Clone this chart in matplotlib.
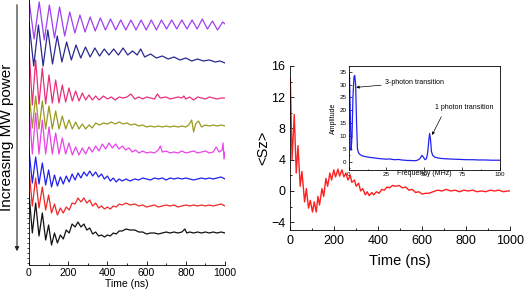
import numpy as np
import matplotlib
matplotlib.use("Agg")
import matplotlib.pyplot as plt
from matplotlib.ticker import MultipleLocator

plt.rcParams['font.family'] = ['Liberation Sans', 'DejaVu Sans']

# ---- left panel: stacked traces, (time ns, signal a.u.) relative to each trace's own baseline
purple = [(0, 25), (26, -14), (52, 23), (78, -15), (104, 20), (130, -13), (156, 18), (182, -11),
          (208, 13), (234, -8), (260, 10), (286, -7), (312, 8), (338, -6), (364, 7), (390, -5),
          (416, 6), (442, -5), (468, 5), (494, -5), (520, 5), (546, -5), (572, 5), (598, -5),
          (624, 5), (650, -5), (676, 5), (702, -4), (728, 5), (754, -4), (780, 5), (806, -4),
          (832, 5), (858, -4), (884, 6), (910, -4), (936, 4), (962, -5), (988, 3), (1000, 1)]
navy = [(0, 41), (24, -3), (48, 38), (72, -3), (96, 33), (120, -1), (144, 27), (168, 1),
        (192, 21), (216, 3), (240, 18), (264, 5), (288, 16), (312, 6), (336, 15), (360, 7),
        (384, 14), (408, 8), (432, 14), (456, 8), (480, 15), (504, 8), (528, 12), (552, 8),
        (570, 14), (590, 6), (620, 9), (650, 5), (680, 7), (710, 4), (740, 6), (770, 3),
        (800, 5), (830, 2), (860, 4), (890, 2), (920, 3), (950, 1), (975, 2), (1000, 0)]
pink = [(0, 50), (17, -7), (34, 38), (51, -6), (68, 30), (85, -6), (102, 23), (119, -5),
        (136, 18), (153, -5), (170, 13), (187, -4), (204, 10), (221, -3), (238, 7), (255, -3),
        (272, 5), (289, -2), (306, 3), (323, -2), (340, 2), (357, -2), (380, 2), (400, -1),
        (420, 1), (440, -2), (460, 1), (480, 0), (500, 1), (520, 4), (540, -1), (560, 1),
        (580, -1), (600, 1), (620, 0), (640, -1), (655, 4), (670, 0), (700, 1), (720, -1),
        (740, 0), (760, 1), (780, 0), (790, 2), (800, -1), (820, 1), (840, -2), (860, 1),
        (880, 0), (900, -1), (920, 1), (940, 0), (960, -1), (980, 0), (1000, 0)]
olive = [(0, 36), (17, -2), (34, 30), (51, -3), (68, 25), (85, -3), (102, 20), (119, -3),
         (136, 15), (153, -3), (170, 10), (187, -3), (204, 6), (221, -3), (238, 4), (255, -3),
         (272, 2), (289, -3), (306, 1), (323, -2), (340, 3), (360, 1), (380, 3), (400, 2),
         (420, 4), (440, 2), (460, 4), (480, 2), (500, 3), (520, 1), (540, 2), (560, 0),
         (580, 1), (600, -1), (620, 0), (640, -1), (660, 0), (680, -1), (700, 0), (720, -1),
         (740, 0), (760, -1), (780, 0), (800, -1), (815, 1), (830, 6), (840, -6), (850, 2),
         (865, 5), (880, -1), (900, 1), (920, 0), (940, 1), (960, 0), (980, 1), (1000, 0)]
magenta = [(0, 45), (17, -2), (34, 39), (51, -2), (68, 32), (85, -2), (102, 25), (119, -2),
           (136, 19), (153, -2), (170, 14), (187, -2), (204, 9), (221, -3), (238, 5), (255, -3),
           (272, 4), (289, -2), (306, 5), (323, 0), (340, 6), (357, 1), (374, 8), (391, 3),
           (408, 9), (425, 4), (442, 8), (459, 3), (476, 6), (493, 2), (510, 4), (527, 0),
           (544, 2), (561, -1), (580, 1), (600, -1), (620, 0), (640, -1), (660, 2), (670, 6),
           (680, 0), (700, 1), (720, -1), (740, 0), (760, -1), (780, 1), (800, -1), (820, 0),
           (840, 1), (860, -1), (880, 0), (900, 1), (920, -1), (940, 0), (955, 5), (970, 0),
           (985, 2), (990, 9), (995, -7), (1000, 0)]
blue = [(0, 29), (17, -4), (34, 22), (51, -5), (68, 16), (85, -6), (100, 9), (115, -8),
        (130, 4), (145, -7), (160, 2), (175, -5), (190, 3), (205, -3), (220, 5), (235, -1),
        (250, 6), (265, 1), (280, 7), (295, 3), (310, 8), (325, 3), (340, 7), (355, 2),
        (370, 5), (385, 0), (400, 3), (415, -2), (430, 1), (445, -3), (460, 0), (475, -2),
        (495, 0), (515, -2), (540, 0), (560, -1), (580, 1), (600, 0), (620, -1), (640, 1),
        (660, 0), (680, 1), (700, -1), (720, 1), (740, 0), (760, 1), (780, 0), (800, 1),
        (820, 0), (840, -1), (860, 0), (880, 1), (900, 0), (920, 1), (940, 0), (960, 1),
        (980, 2), (1000, 0)]
red = [(0, 36), (17, 0), (34, 28), (51, -2), (68, 19), (85, -4), (100, 11), (115, -7),
       (130, 2), (145, -9), (160, -2), (175, -7), (190, -1), (205, -4), (220, 3), (235, 2),
       (250, 8), (265, 4), (280, 8), (295, 3), (310, 6), (325, 0), (340, 3), (355, -2),
       (370, 0), (385, -3), (400, -1), (415, -3), (430, 0), (445, -1), (460, 2), (475, 1),
       (495, 3), (515, 1), (540, 2), (560, 0), (580, 1), (600, -1), (620, 0), (640, 1),
       (660, -1), (680, 0), (700, 1), (720, 0), (740, 1), (760, -1), (780, 0), (800, 1),
       (820, 0), (840, 1), (860, 0), (880, 1), (900, 0), (920, 1), (940, 0), (960, 1),
       (980, 2), (1000, 0)]
black = [(0, 40), (17, 0), (34, 30), (51, -3), (68, 20), (85, -7), (100, 8), (115, -12),
         (130, 0), (145, -10), (160, -2), (175, -6), (190, 3), (205, 0), (220, 9), (235, 6),
         (250, 11), (265, 6), (280, 9), (295, 3), (310, 5), (325, -1), (340, 1), (355, -3),
         (370, -2), (385, -4), (400, -2), (415, -3), (430, 0), (445, -1), (460, 2), (475, 2),
         (495, 4), (515, 3), (540, 3), (560, 1), (580, 1), (600, -1), (620, 0), (640, 0),
         (660, -1), (680, 0), (700, 1), (720, 0), (740, 1), (760, 0), (780, 1), (795, 4),
         (805, 0), (820, 1), (840, 0), (860, 1), (880, 0), (900, 1), (920, 0), (940, 1),
         (960, 0), (980, 1), (1000, 0)]

traces = [purple, navy, pink, olive, magenta, blue, red, black]
offsets = [240, 202, 167, 139, 113, 86, 59, 32]
colors = ['#a040f0', '#2a2a90', '#e8307a', '#9a9a20', '#e844e8', '#2020f0', '#ee2828', '#111111']

# ---- right panel: <Sz> vs time
sz_t = [0, 8, 18, 27, 35, 45, 53, 65, 73, 83, 91, 101, 109, 118, 126, 133, 144, 152, 162, 170,
        180, 188, 198, 206, 217, 224, 235, 244, 253, 262, 273, 280, 292, 300, 311, 320, 330, 341,
        350, 359, 371, 380, 392, 404, 416, 428, 440, 452, 465, 480, 495, 510, 525, 540, 555, 570,
        585, 600, 615, 630, 650, 670, 690, 710, 730, 750, 770, 790, 810, 830, 850, 870, 890, 910,
        930, 950, 970, 990, 1000]
sz = [14.4, 4.0, 9.8, 2.3, 5.8, 0.6, 2.5, -1.4, 0.3, -2.2, -1.2, -2.7, -1.4, -2.7, -0.7, -1.8,
      0.3, -0.7, 1.6, 0.6, 2.3, 1.4, 2.7, 1.8, 2.8, 1.9, 2.7, 1.8, 2.3, 1.4, 2.0, 1.1, 1.4, 0.6,
      1.0, 0.0, 0.3, -0.5, -0.1, -0.6, -0.2, -0.5, -0.1, -0.3, 0.2, 0.1, 0.5, 0.4, 0.7, 0.6, 0.7,
      0.4, 0.5, 0.1, 0.2, -0.2, -0.1, -0.4, -0.3, -0.3, -0.1, 0.1, 0.0, 0.2, 0.0, 0.1, -0.1, 0.1,
      0.0, 0.1, -0.1, 0.0, -0.1, 0.1, 0.0, 0.1, -0.1, 0.0, 0.0]

# ---- inset: FFT amplitude
freq = [0, 0.5, 1.0, 1.6, 2.2, 2.8, 3.5, 4.0, 4.6, 5.2, 5.8, 6.5, 7.5, 9, 11, 13, 15, 17, 19, 21,
        23, 25, 27, 29, 31, 33, 35, 37, 39, 41, 43, 45, 46.5, 47.5, 48.5, 49.5, 50.5, 51.5, 52.3,
        53.0, 53.6, 54.2, 54.8, 55.6, 57, 59, 61, 63, 66, 70, 74, 78, 82, 86, 90, 95, 100]
amp = [34.5, 33, 20, 4.5, 10, 25, 33, 33.5, 30, 15, 5, 3.5, 2.8, 2.3, 2.0, 1.8, 1.6, 1.5, 1.3,
       1.2, 1.1, 1.0, 1.1, 0.9, 0.8, 0.9, 0.7, 0.6, 0.5, 0.5, 0.4, 0.5, 0.9, 1.5, 2.5, 1.8, 0.8,
       1.2, 3.5, 8, 11, 8.5, 4, 2.5, 1.8, 1.5, 1.3, 1.2, 1.1, 1.0, 0.9, 0.8, 0.8, 0.7, 0.7, 0.6,
       0.6]

W, H = 524, 297
fig = plt.figure(figsize=(W / 100, H / 100), dpi=100)

# left panel
ax1 = fig.add_axes([29 / W, 1 - 265 / H, 196 / W, 265 / H])
for tr, off, c in zip(traces, offsets, colors):
    t, v = zip(*tr)
    ax1.plot(t, off + np.array(v), color=c, lw=0.9)
ax1.set_xlim(0, 1000)
ax1.set_ylim(0, 265)
ax1.spines['top'].set_visible(False)
ax1.spines['right'].set_visible(False)
for s in ['left', 'bottom']:
    ax1.spines[s].set_linewidth(0.6)
ax1.xaxis.set_major_locator(MultipleLocator(200))
ax1.xaxis.set_minor_locator(MultipleLocator(100))
ax1.set_yticks(np.arange(2, 70, 5))
ax1.set_yticklabels([])
ax1.tick_params(axis='x', which='both', direction='in', labelsize=7.5, pad=2, width=0.6)
ax1.tick_params(axis='x', which='major', length=3)
ax1.tick_params(axis='x', which='minor', length=1.5)
ax1.tick_params(axis='y', direction='out', length=1.5, width=0.5)
ax1.set_xlabel('Time (ns)', fontsize=7.5, labelpad=1)

fig.text(7 / W, 1 - 137 / H, 'Increasing MW power', rotation=90, fontsize=11,
         ha='center', va='center')
fig.patches.append(matplotlib.patches.FancyArrowPatch(
    (17 / W, 1 - 2 / H), (17 / W, 1 - 254 / H), transform=fig.transFigure,
    arrowstyle='-|>', mutation_scale=6, lw=0.8, color='#222222'))

# right panel
ax2 = fig.add_axes([290.3 / W, 1 - 230 / H, 219.7 / W, 164 / H])
ax2.plot(sz_t, sz, color='#ff2020', lw=1.0)
ax2.set_xlim(0, 1000)
ax2.set_ylim(-5, 16)
ax2.spines['top'].set_visible(False)
ax2.spines['right'].set_visible(False)
for s in ['left', 'bottom']:
    ax2.spines[s].set_linewidth(0.6)
ax2.xaxis.set_major_locator(MultipleLocator(200))
ax2.xaxis.set_minor_locator(MultipleLocator(100))
ax2.set_yticks([-4, 0, 4, 8, 12, 16])
ax2.yaxis.set_minor_locator(MultipleLocator(2))
ax2.tick_params(which='both', direction='in', labelsize=9, width=0.6)
ax2.tick_params(which='major', length=3)
ax2.tick_params(which='minor', length=1.5)
ax2.set_xlabel('Time (ns)', fontsize=10.5, labelpad=5)
ax2.set_ylabel('<Sz>', fontsize=10.5, labelpad=1)

# inset
ax3 = fig.add_axes([348.7 / W, 1 - 170 / H, 151 / W, 104 / H])
ax3.plot(freq, amp, color='#2222ee', lw=0.9)
ax3.set_xlim(0, 100)
ax3.set_ylim(-3.2, 37.2)
for s in ax3.spines.values():
    s.set_linewidth(0.6)
ax3.set_xticks([0, 25, 50, 75, 100])
ax3.set_yticks(np.arange(0, 36, 5))
ax3.xaxis.set_minor_locator(MultipleLocator(12.5))
ax3.yaxis.set_minor_locator(MultipleLocator(2.5))
ax3.tick_params(which='both', direction='in', labelsize=4.5, pad=1.5, width=0.5)
ax3.tick_params(which='major', length=2)
ax3.tick_params(which='minor', length=1)
ax3.set_xlabel('Frequency (MHz)', fontsize=5, labelpad=-5)
ax3.set_ylabel('Amplitude', fontsize=5, labelpad=2)
ax3.annotate('3-photon transition', xy=(5.0, 28.9), xytext=(24.3, 30.9), fontsize=5,
             va='center', ha='left',
             arrowprops=dict(arrowstyle='-|>', lw=0.5, color='k', mutation_scale=4,
                             shrinkA=1, shrinkB=0))
ax3.annotate('1 photon transition', xy=(55.2, 10.4), xytext=(57.3, 20.9), fontsize=5,
             va='center', ha='left',
             arrowprops=dict(arrowstyle='-|>', lw=0.5, color='k', mutation_scale=4,
                             shrinkA=2, shrinkB=0, relpos=(0.15, 0)))

fig.savefig('out.png', dpi=100)
